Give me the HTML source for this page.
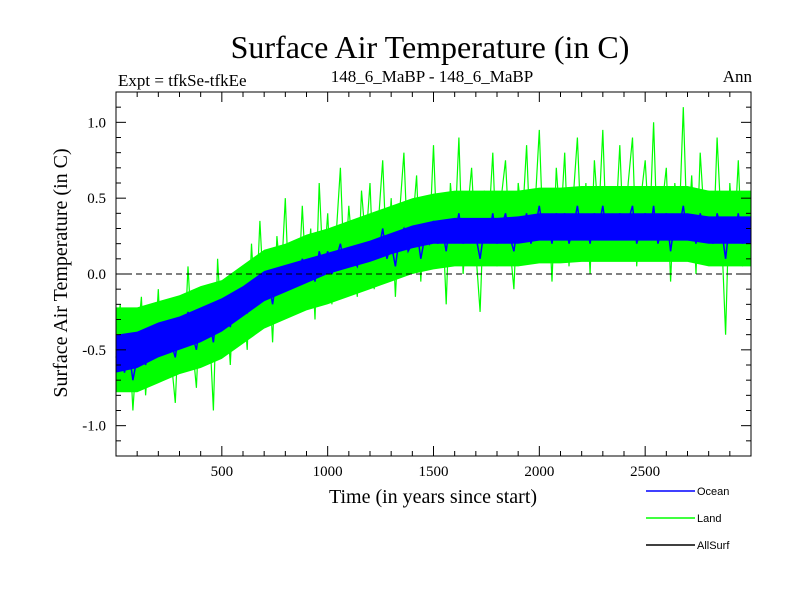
<!DOCTYPE html>
<html><head><meta charset="utf-8"><style>
body{margin:0;background:#fff}
svg text{font-family:"Liberation Serif",serif}
</style></head><body>
<svg width="800" height="600" xmlns="http://www.w3.org/2000/svg">
<text x="430" y="58" font-size="32" text-anchor="middle">Surface Air Temperature (in C)</text>
<text x="118" y="86" font-size="17">Expt = tfkSe-tfkEe</text>
<text x="432" y="82" font-size="17" text-anchor="middle">148_6_MaBP - 148_6_MaBP</text>
<text x="752" y="82" font-size="17" text-anchor="end">Ann</text>
<g id="plot"></g>
<text x="433" y="503" font-size="20" text-anchor="middle">Time (in years since start)</text>
<text transform="translate(67,273) rotate(-90)" font-size="20" text-anchor="middle">Surface Air Temperature (in C)</text>
<g font-size="11">
<line x1="646" y1="491" x2="695" y2="491" stroke="#0000ff" stroke-width="1.5"/>
<text x="697" y="495" style="font-family:'Liberation Sans',sans-serif">Ocean</text>
<line x1="646" y1="518" x2="695" y2="518" stroke="#00ff00" stroke-width="1.5"/>
<text x="697" y="522" style="font-family:'Liberation Sans',sans-serif">Land</text>
<line x1="646" y1="545" x2="695" y2="545" stroke="#000" stroke-width="1.5"/>
<text x="697" y="549" style="font-family:'Liberation Sans',sans-serif">AllSurf</text>
</g>
</svg>
<script>
const yearStep = 20;
const bandStep = 100;
const landValues = [-0.5,-0.2,-0.75,-0.35,-0.9,-0.45,-0.15,-0.8,-0.4,-0.6,-0.1,-0.7,-0.3,-0.55,-0.85,
-0.2,-0.6,0.05,-0.45,-0.75,-0.1,-0.5,-0.3,-0.9,0.1,-0.4,-0.15,-0.6,0.0,-0.35,
-0.1,-0.5,0.2,-0.3,0.35,-0.2,0.1,-0.45,0.25,-0.05,0.5,-0.25,0.15,-0.15,0.45,
-0.1,0.3,-0.3,0.6,0.0,0.4,-0.2,0.25,0.7,-0.05,0.45,0.1,-0.15,0.55,0.2,
0.6,-0.1,0.35,0.75,0.05,0.5,-0.15,0.4,0.8,0.1,0.3,0.65,-0.05,0.5,0.2,
0.85,0.1,0.45,-0.2,0.6,0.25,0.9,0.0,0.4,0.7,0.15,-0.25,0.55,0.3,0.8,
0.05,0.5,0.75,0.2,-0.1,0.6,0.35,0.85,0.1,0.45,0.95,0.15,0.55,-0.05,0.7,
0.3,0.8,0.05,0.5,0.9,0.2,0.6,0.0,0.75,0.35,0.95,0.1,0.55,0.3,0.85,
0.15,0.6,0.9,0.05,0.5,0.75,0.25,1.0,0.1,0.45,0.7,-0.05,0.6,0.3,1.1,
0.2,0.65,0.0,0.8,0.35,0.55,0.1,0.9,0.3,-0.4,0.6,0.2,0.75,0.05,0.5];
const oceanValues = [-0.55,-0.45,-0.65,-0.5,-0.7,-0.55,-0.4,-0.6,-0.45,-0.55,-0.35,-0.5,-0.4,-0.45,-0.55,
-0.35,-0.45,-0.25,-0.4,-0.5,-0.3,-0.4,-0.3,-0.45,-0.2,-0.3,-0.25,-0.35,-0.15,-0.25,
-0.2,-0.25,-0.05,-0.2,0.0,-0.15,-0.05,-0.2,0.0,-0.1,0.05,-0.1,0.0,-0.05,0.1,
0.0,0.1,-0.05,0.15,0.05,0.15,0.0,0.1,0.2,0.05,0.15,0.1,0.05,0.2,0.1,
0.2,0.1,0.15,0.3,0.1,0.2,0.05,0.25,0.3,0.15,0.2,0.3,0.1,0.25,0.2,
0.35,0.2,0.3,0.15,0.35,0.25,0.4,0.2,0.3,0.35,0.25,0.1,0.3,0.25,0.4,
0.2,0.3,0.4,0.25,0.15,0.35,0.3,0.4,0.2,0.3,0.45,0.25,0.35,0.2,0.4,
0.25,0.4,0.2,0.3,0.45,0.25,0.35,0.2,0.4,0.3,0.45,0.25,0.35,0.3,0.4,
0.25,0.35,0.45,0.2,0.3,0.4,0.25,0.45,0.2,0.3,0.4,0.15,0.35,0.3,0.45,
0.25,0.35,0.2,0.4,0.3,0.35,0.2,0.4,0.3,0.1,0.35,0.25,0.4,0.2,0.3];
const landLow = [-0.78,-0.78,-0.72,-0.66,-0.62,-0.56,-0.46,-0.36,-0.3,-0.24,-0.2,-0.15,-0.1,-0.05,0.0,0.03,0.05,0.05,0.05,0.05,0.07,0.07,0.08,0.08,0.08,0.08,0.08,0.08,0.05,0.05,0.05];
const landHigh = [-0.22,-0.22,-0.18,-0.14,-0.08,-0.04,0.06,0.16,0.2,0.26,0.3,0.35,0.4,0.45,0.5,0.53,0.55,0.55,0.55,0.55,0.57,0.57,0.58,0.58,0.58,0.58,0.58,0.58,0.55,0.55,0.55];
const oceanLow = [-0.65,-0.62,-0.55,-0.5,-0.45,-0.38,-0.28,-0.18,-0.12,-0.06,0.0,0.04,0.08,0.13,0.17,0.2,0.2,0.2,0.2,0.2,0.22,0.22,0.22,0.22,0.22,0.22,0.22,0.22,0.2,0.2,0.2];
const oceanHigh = [-0.4,-0.38,-0.32,-0.28,-0.22,-0.16,-0.08,0.02,0.06,0.1,0.14,0.18,0.22,0.27,0.32,0.35,0.37,0.37,0.37,0.38,0.4,0.4,0.4,0.4,0.4,0.4,0.4,0.4,0.38,0.38,0.38];
const xTicks = [500,1000,1500,2000,2500];
const yTicks = [-1.0,-0.5,0.0,0.5,1.0];
const yTickLabels = ["-1.0","-0.5","0.0","0.5","1.0"];

const L=116,R=751,T=92,B=456, X0=0,X1=3000, Y0=-1.2,Y1=1.2;
const sx=v=>L+(v-X0)/(X1-X0)*(R-L);
const sy=v=>B-(v-Y0)/(Y1-Y0)*(B-T);
const NS="http://www.w3.org/2000/svg";
const g=document.getElementById('plot');
function mk(t,a){const e=document.createElementNS(NS,t);for(const k in a)e.setAttribute(k,a[k]);g.appendChild(e);return e;}
function band(lo,hi,color,name){
  const top=hi.map((v,i)=>sx(Math.min(i*bandStep,X1)).toFixed(1)+','+sy(v).toFixed(1));
  const bot=lo.map((v,i)=>sx(Math.min(i*bandStep,X1)).toFixed(1)+','+sy(v).toFixed(1)).reverse();
  const p=mk('polygon',{points:top.concat(bot).join(' '),fill:color,stroke:'none'});
  
  
}
function line(vals,color,w,name){
  const pts=vals.map((v,i)=>sx(i*yearStep).toFixed(1)+','+sy(v).toFixed(1)).join(' ');
  const p=mk('polyline',{points:pts,fill:'none',stroke:color,'stroke-width':w});
  
  
}
band(landLow,landHigh,'#00ff00','land-band');
line(landValues,'#00ff00',1.2,'land-series');
band(oceanLow,oceanHigh,'#0000ff','ocean-band');
line(oceanValues,'#0000ff',1.5,'ocean-series');
const z=mk('line',{x1:L,x2:R,y1:sy(0),y2:sy(0),stroke:'#000','stroke-width':1,'stroke-dasharray':'6,4'});


const fr=mk('rect',{x:L,y:T,width:R-L,height:B-T,fill:'none',stroke:'#000','stroke-width':1});


for(let v=100;v<X1;v+=100){
  const major=v%500===0, len=major?10:5, x=sx(v);
  mk('line',{x1:x,x2:x,y1:B,y2:B-len,stroke:'#000'});
  mk('line',{x1:x,x2:x,y1:T,y2:T+len,stroke:'#000'});
}
for(let k=-11;k<=11;k++){
  const v=k/10, major=k%5===0, len=major?10:5, y=sy(v);
  mk('line',{x1:L,x2:L+len,y1:y,y2:y,stroke:'#000'});
  mk('line',{x1:R,x2:R-len,y1:y,y2:y,stroke:'#000'});
}
xTicks.forEach(v=>{const t=mk('text',{x:sx(v),y:B+20,'font-size':15,'text-anchor':'middle'});t.textContent=v;

});
yTicks.forEach((v,i)=>{const t=mk('text',{x:L-10,y:sy(v)+5,'font-size':15,'text-anchor':'end'});t.textContent=yTickLabels[i];

});
</script>
</body></html>
